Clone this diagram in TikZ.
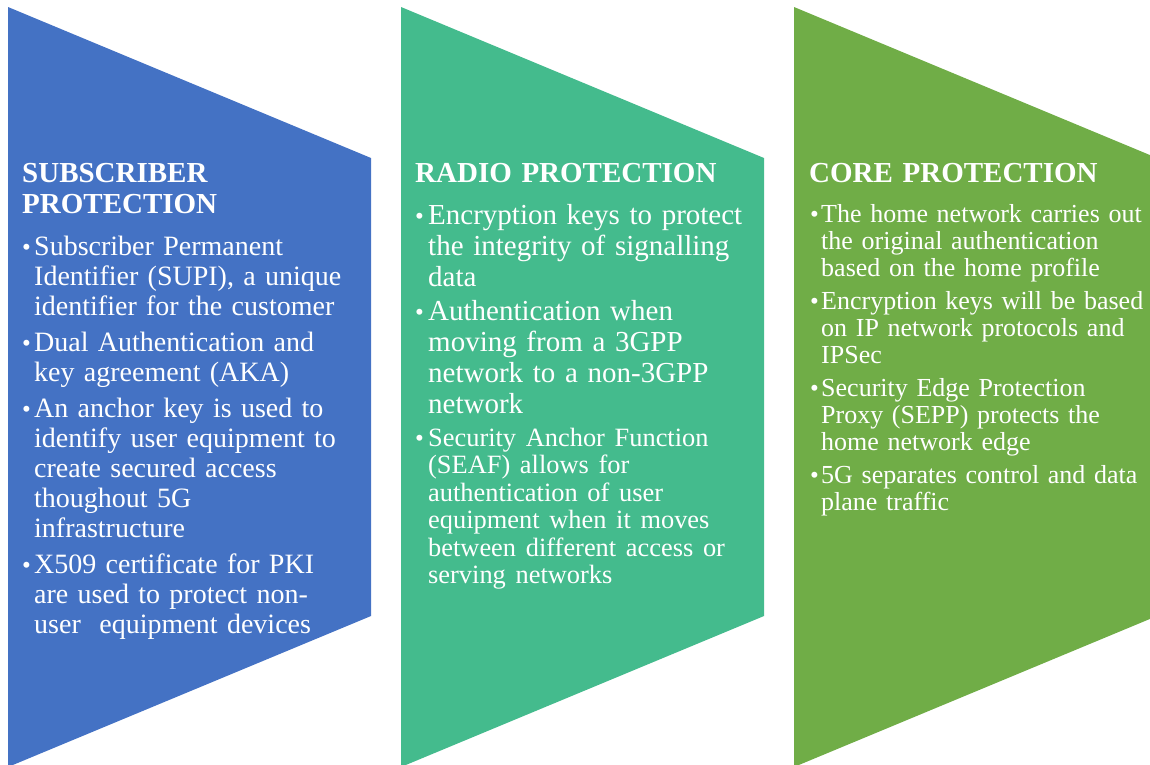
\documentclass[tikz,border=0pt]{standalone}
\usepackage{fontspec}
\setmainfont{Liberation Serif}
\usepackage{tikz}
\definecolor{subblue}{RGB}{68,114,196}
\definecolor{radioteal}{RGB}{68,187,141}
\definecolor{coregreen}{RGB}{112,173,71}
% bullet with hanging indent (\par goes between items)
\newlength{\itemgap}
\setlength{\itemgap}{6pt}
\newcommand{\bul}[1][12pt]{\setlength{\parskip}{\itemgap}\hangindent=#1\hangafter=1\noindent\makebox[#1][l]{\fontsize{25}{25}\selectfont\textbullet}\ignorespaces}
\tikzset{
    panel/.style={draw=none},
    heading/.style={
        anchor=base west,
        inner sep=0pt,
        text width=345pt,
        align=left,
        text=white,
        font=\fontsize{29}{31}\selectfont\bfseries
    },
    points/.style={
        anchor=base west,
        inner sep=0pt,
        text width=360pt,
        align=left,
        text=white
    }
}

\begin{document}
\begin{tikzpicture}[x=1pt, y=-1pt]

    \useasboundingbox (0,0) rectangle (1150,764);
    \clip (0,0) rectangle (1150,764);

    % Panels
    \fill[panel, subblue] (8,7) -- (371,158) -- (371,616) -- (8,767) -- cycle;
    \fill[panel, radioteal] (401,7) -- (764,158) -- (764,616) -- (401,767) -- cycle;
    \fill[panel, coregreen] (794,7) -- (1157,158) -- (1157,616) -- (794,767) -- cycle;

    % Headings
    \node[heading] (subhead) at (22,182) {SUBSCRIBER\newline PROTECTION};
    \node[heading] (radiohead) at (415,182) {RADIO PROTECTION};
    \node[heading] (corehead) at (809,182) {CORE PROTECTION};

    % Points
    \node[points, font=\fontsize{28}{30}\selectfont] (subpts) at (22,255) {%
        \bul Subscriber Permanent\newline Identifier (SUPI), a unique\newline identifier for the customer\par
        \bul Dual Authentication and\newline key agreement (AKA)\par
        \bul An anchor key is used to\newline identify user equipment to\newline create secured access\newline thoughout 5G\newline infrastructure\par
        \bul X509 certificate for PKI\newline are used to protect non-\newline user\ \ equipment devices\par};

    \node[points, font=\fontsize{29}{31}\selectfont] (radiopts) at (415,224) {%
        \setlength{\itemgap}{3pt}%
        \bul[13pt] Encryption keys to protect\newline the integrity of signalling\newline data\par
        \bul[13pt] Authentication when\newline moving from a 3GPP\newline network to a non-3GPP\newline network\par
        \fontsize{26.4}{27.4}\selectfont\setlength{\itemgap}{6pt}%
        \bul[13pt] Security Anchor Function\newline (SEAF) allows for\newline authentication of user\newline equipment when it moves\newline between different access or\newline serving networks\par};

    \node[points, font=\fontsize{26}{27}\selectfont] (corepts) at (810,222) {%
        \bul[11pt] The home network carries out\newline the original authentication\newline based on the home profile\par
        \bul[11pt] Encryption keys will be based\newline on IP network protocols and\newline IPSec\par
        \bul[11pt] Security Edge Protection\newline Proxy (SEPP) protects the\newline home network edge\par
        \bul[11pt] 5G separates control and data\newline plane traffic\par};

\end{tikzpicture}
\end{document}
